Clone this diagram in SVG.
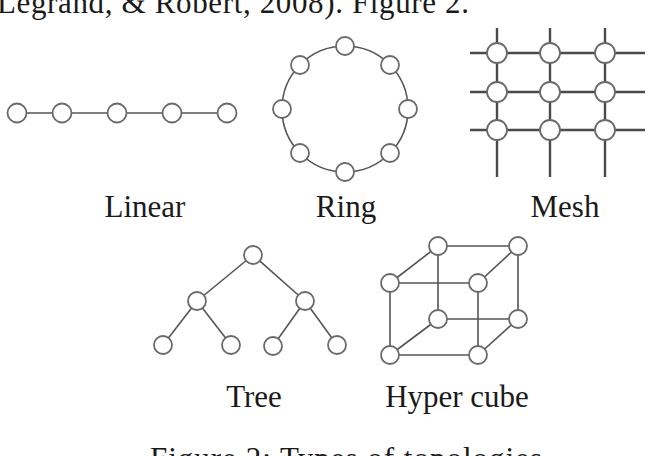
<svg xmlns="http://www.w3.org/2000/svg" width="650" height="456" viewBox="0 0 650 456">
<style>
.n{fill:#fff;stroke:#6a6a6a;stroke-width:1.8}
.e{stroke:#555;stroke-width:1.6;fill:none}
.m{stroke:#4a4a4a;stroke-width:2.4;fill:none}
.t{font-family:"Liberation Serif","Times New Roman",serif;font-size:31px;fill:#1a1a1a}
</style>
<rect width="650" height="456" fill="#fff"/>
<text class="t" x="-3" y="12.5" textLength="472" lengthAdjust="spacing">Legrand, &amp; Robert, 2008). Figure 2.</text>
<g id="connectors">
<line class="e" x1="17" y1="113" x2="227" y2="113"/>
<circle class="e" cx="345" cy="109" r="63"/>
<g class="m">
<line x1="470" y1="53" x2="645" y2="53"/>
<line x1="470" y1="92" x2="645" y2="92"/>
<line x1="470" y1="130" x2="645" y2="130"/>
<line x1="497" y1="28" x2="497" y2="177"/>
<line x1="550" y1="28" x2="550" y2="177"/>
<line x1="605" y1="28" x2="605" y2="177"/>
</g>
<g class="e">
<line x1="253" y1="255" x2="197" y2="301"/>
<line x1="253" y1="255" x2="305" y2="301"/>
<line x1="197" y1="301" x2="163" y2="345"/>
<line x1="197" y1="301" x2="231" y2="345"/>
<line x1="305" y1="301" x2="273" y2="346"/>
<line x1="305" y1="301" x2="337" y2="345"/>
</g>
<g class="e">
<polygon points="390,283 478,283 478,355 390,355"/>
<polygon points="438,246 518,246 518,319 438,319"/>
<line x1="390" y1="283" x2="438" y2="246"/>
<line x1="478" y1="283" x2="518" y2="246"/>
<line x1="390" y1="355" x2="438" y2="319"/>
<line x1="478" y1="355" x2="518" y2="319"/>
</g>
</g>
<g id="linear">
<circle class="n" cx="17" cy="113" r="9.5"/>
<circle class="n" cx="62" cy="113" r="9.5"/>
<circle class="n" cx="117" cy="113" r="9.5"/>
<circle class="n" cx="172" cy="113" r="9.5"/>
<circle class="n" cx="227" cy="113" r="9.5"/>
<text class="t" x="145" y="217" text-anchor="middle">Linear</text>
</g>
<g id="ring">
<circle class="n" cx="345" cy="46" r="9"/>
<circle class="n" cx="390" cy="65" r="9"/>
<circle class="n" cx="408" cy="109" r="9"/>
<circle class="n" cx="390" cy="153" r="9"/>
<circle class="n" cx="345" cy="172" r="9"/>
<circle class="n" cx="300" cy="153" r="9"/>
<circle class="n" cx="282" cy="109" r="9"/>
<circle class="n" cx="300" cy="65" r="9"/>
<text class="t" x="346" y="217" text-anchor="middle">Ring</text>
</g>
<g id="mesh">
<circle class="n" cx="497" cy="53" r="10"/>
<circle class="n" cx="550" cy="53" r="10"/>
<circle class="n" cx="605" cy="53" r="10"/>
<circle class="n" cx="497" cy="92" r="10"/>
<circle class="n" cx="550" cy="92" r="10"/>
<circle class="n" cx="605" cy="92" r="10"/>
<circle class="n" cx="497" cy="130" r="10"/>
<circle class="n" cx="550" cy="130" r="10"/>
<circle class="n" cx="605" cy="130" r="10"/>
<text class="t" x="565" y="217" text-anchor="middle">Mesh</text>
</g>
<g id="tree">
<circle class="n" cx="253" cy="255" r="9"/>
<circle class="n" cx="197" cy="301" r="9"/>
<circle class="n" cx="305" cy="301" r="9"/>
<circle class="n" cx="163" cy="345" r="9"/>
<circle class="n" cx="231" cy="345" r="9"/>
<circle class="n" cx="273" cy="346" r="9"/>
<circle class="n" cx="337" cy="345" r="9"/>
<text class="t" x="254" y="407" text-anchor="middle">Tree</text>
</g>
<g id="hypercube">
<circle class="n" cx="438" cy="246" r="9"/>
<circle class="n" cx="518" cy="246" r="9"/>
<circle class="n" cx="390" cy="283" r="9"/>
<circle class="n" cx="478" cy="283" r="9"/>
<circle class="n" cx="438" cy="319" r="9"/>
<circle class="n" cx="518" cy="319" r="9"/>
<circle class="n" cx="390" cy="355" r="9"/>
<circle class="n" cx="478" cy="355" r="9"/>
<text class="t" x="457" y="407" text-anchor="middle">Hyper cube</text>
</g>
<text class="t" x="346" y="469" text-anchor="middle" textLength="392" lengthAdjust="spacing">Figure 2:  Types of topologies</text>
</svg>
